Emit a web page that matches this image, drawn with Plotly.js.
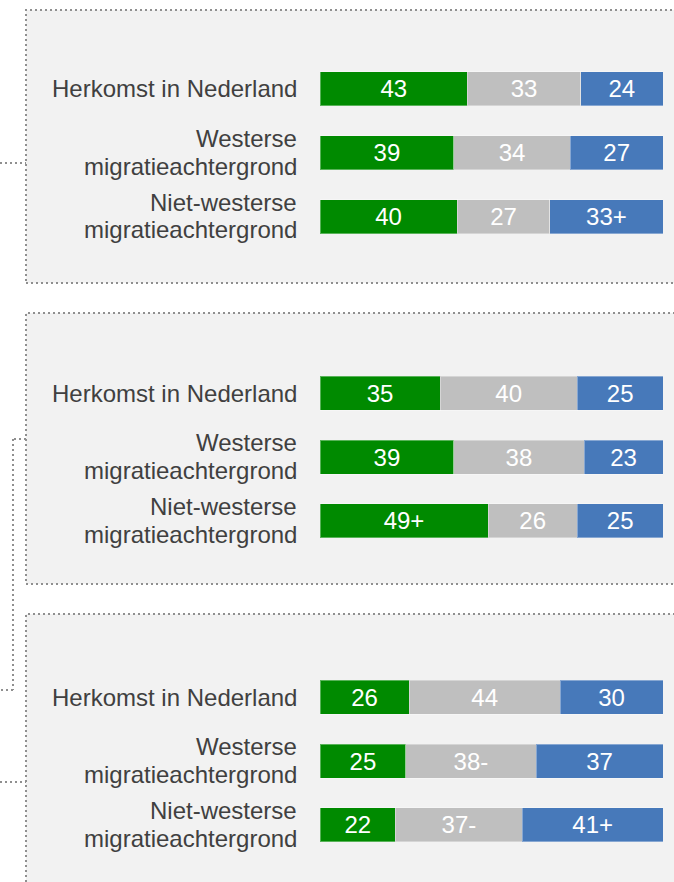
<!DOCTYPE html>
<html>
<head>
<meta charset="utf-8">
<script src="https://cdn.plot.ly/plotly-3.0.1.min.js"></script>
<style>
html,body{margin:0;padding:0;background:#fff;}
#chart{width:674px;height:882px;}
</style>
</head>
<body>
<div id="chart"></div>
<script>
// ---- data ----
const categories = ["Herkomst in Nederland", "Westerse<br>migratieachtergrond", "Niet-westerse<br>migratieachtergrond"];

const green1 = [43, 39, 40];
const gray1  = [33, 34, 27];
const blue1  = [24, 27, 33];
const greenMarks1 = ["", "", ""];
const grayMarks1  = ["", "", ""];
const blueMarks1  = ["", "", "+"];

const green2 = [35, 39, 49];
const gray2  = [40, 38, 26];
const blue2  = [25, 23, 25];
const greenMarks2 = ["", "", "+"];
const grayMarks2  = ["", "", ""];
const blueMarks2  = ["", "", ""];

const green3 = [26, 25, 22];
const gray3  = [44, 38, 37];
const blue3  = [30, 37, 41];
const greenMarks3 = ["", "", ""];
const grayMarks3  = ["", "-", "-"];
const blueMarks3  = ["", "", "+"];

// ---- styling / layout helpers ----
const W = 674, H = 882;
const px = v => v / W;
const py = v => 1 - v / H;
const colors = {green: "#008A00", gray: "#BFBFBF", blue: "#4779BA"};
const FONT = "Liberation Sans, Arial, Helvetica, sans-serif";
const LINE_GAP = 27.7;

const panels = [
  {vals: [green1, gray1, blue1], marks: [greenMarks1, grayMarks1, blueMarks1], yTop: 57.1, yBot: 248.4},
  {vals: [green2, gray2, blue2], marks: [greenMarks2, grayMarks2, blueMarks2], yTop: 361.4, yBot: 552.9},
  {vals: [green3, gray3, blue3], marks: [greenMarks3, grayMarks3, blueMarks3], yTop: 665.4, yBot: 856.9}
];
const colorList = [colors.green, colors.gray, colors.blue];

const traces = [];
const layout = {
  width: W, height: H,
  margin: {l: 0, r: 0, t: 0, b: 0},
  paper_bgcolor: "#ffffff",
  plot_bgcolor: "rgba(0,0,0,0)",
  barmode: "stack",
  bargap: 0.467,
  showlegend: false,
  font: {family: FONT, size: 24, color: "#404040"},
  shapes: [],
  annotations: []
};

panels.forEach((p, i) => {
  const xa = i === 0 ? "x" : "x" + (i + 1);
  const ya = i === 0 ? "y" : "y" + (i + 1);
  p.vals.forEach((arr, k) => {
    traces.push({
      type: "bar", orientation: "h",
      x: arr, y: categories,
      xaxis: xa, yaxis: ya,
      text: arr.map((v, j) => String(v) + p.marks[k][j]),
      textposition: "inside",
      insidetextanchor: "middle",
      textangle: 0,
      constraintext: "none",
      textfont: {family: FONT, size: 24, color: "#ffffff"},
      marker: {color: colorList[k], line: {color: "rgba(255,255,255,0.35)", width: 1}},
      hoverinfo: "skip"
    });
  });
  const xKey = i === 0 ? "xaxis" : "xaxis" + (i + 1);
  const yKey = i === 0 ? "yaxis" : "yaxis" + (i + 1);
  layout[xKey] = {
    domain: [px(320), px(663)], range: [0, 100], anchor: ya,
    showgrid: false, zeroline: false, showticklabels: false, showline: false, fixedrange: true
  };
  layout[yKey] = {
    domain: [py(p.yBot), py(p.yTop)], anchor: xa, type: "category",
    categoryarray: categories, categoryorder: "array",
    autorange: "reversed", showgrid: false, zeroline: false, showline: false,
    ticks: "", showticklabels: false, fixedrange: true
  };
  // category labels (right-aligned, tighter line spacing than tick labels)
  categories.forEach(cat => {
    const lines = cat.split("<br>");
    lines.forEach((ln, li) => {
      const off = (li - (lines.length - 1) / 2) * LINE_GAP - (lines.length > 1 ? 0.5 : 0);
      layout.annotations.push({
        xref: "paper", x: px(299), xanchor: "right",
        yref: ya, y: cat, yanchor: "middle", yshift: -off,
        text: ln, showarrow: false,
        font: {family: FONT, size: 24, color: "#404040"}
      });
    });
  });
});

// panel backgrounds
const dotLine = {color: "#8F8F8F", width: 2, dash: "2px,3px"};
[[10, 283], [313, 584], [614, 900]].forEach(([t, b]) => {
  layout.shapes.push({type: "rect", xref: "paper", yref: "paper", layer: "below",
    x0: px(26), x1: px(700), y0: py(b), y1: py(t),
    fillcolor: "#F2F2F2", line: dotLine});
});
// connectors
function seg(x0, y0, x1, y1) {
  layout.shapes.push({type: "line", xref: "paper", yref: "paper", layer: "below",
    x0: px(x0), y0: py(y0), x1: px(x1), y1: py(y1), line: dotLine});
}
seg(0, 163, 26, 163);
seg(26, 439, 13, 439);
seg(13, 439, 13, 690);
seg(13, 690, 0, 690);
seg(0, 782, 26, 782);

Plotly.newPlot("chart", traces, layout, {staticPlot: true, displayModeBar: false});
</script>
</body>
</html>
